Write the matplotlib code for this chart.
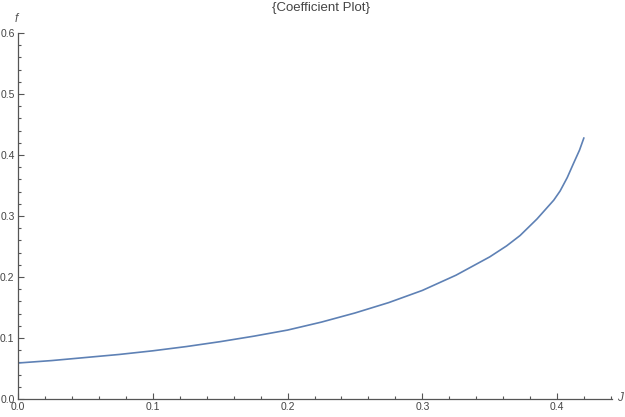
import matplotlib.pyplot as plt
from matplotlib.ticker import MultipleLocator

# values
J = [0.0, 0.025, 0.05, 0.075, 0.1, 0.125, 0.15, 0.175, 0.2, 0.225, 0.25, 0.275,
     0.3, 0.325, 0.35, 0.3625, 0.3725, 0.385, 0.3975, 0.4022, 0.4075, 0.4121, 0.4166, 0.42]
f = [0.059, 0.063, 0.068, 0.073, 0.079, 0.086, 0.094, 0.103, 0.113, 0.126, 0.141, 0.158,
     0.178, 0.203, 0.233, 0.251, 0.268, 0.295, 0.326, 0.341, 0.363, 0.386, 0.408, 0.429]

title = "{Coefficient Plot}"
x_label = "J"
y_label = "f"

axis_col = '#555555'
line_col = '#5E81B5'

plt.rcParams['font.family'] = ['Liberation Sans', 'DejaVu Sans']

fig = plt.figure(figsize=(6.25, 4.17), dpi=100)
ax = fig.add_axes([18/625, 1 - 399/417, 594/625, 366/417])

ax.plot(J, f, color=line_col, lw=1.2, solid_capstyle='butt', solid_joinstyle='round')

ax.set_xlim(0, 0.4407)
ax.set_ylim(0, 0.6)

for s in ['top', 'right']:
    ax.spines[s].set_visible(False)
for s in ['left', 'bottom']:
    ax.spines[s].set_color(axis_col)
    ax.spines[s].set_linewidth(0.9)

ax.xaxis.set_major_locator(MultipleLocator(0.1))
ax.xaxis.set_minor_locator(MultipleLocator(0.02))
ax.yaxis.set_major_locator(MultipleLocator(0.1))
ax.yaxis.set_minor_locator(MultipleLocator(0.02))
ax.tick_params(which='both', direction='in', color=axis_col, width=0.8,
               labelcolor='#444444', labelsize=7.5)
ax.tick_params(which='major', length=4.5, pad=2.5)
ax.tick_params(which='minor', length=2.5)
ax.set_xticks([0.0, 0.1, 0.2, 0.3, 0.4])
ax.set_xticklabels(['0.0', '0.1', '0.2', '0.3', '0.4'])
ax.set_yticks([0.0, 0.1, 0.2, 0.3, 0.4, 0.5, 0.6])
ax.set_yticklabels(['0.0', '0.1', '0.2', '0.3', '0.4', '0.5', '0.6'])

fig.text(16/625, 1 - 19/417, y_label, style='italic', color='#555555',
         fontsize=8.5, ha='center', va='center')
fig.text(620/625, 1 - 398/417, x_label, style='italic', color='#555555',
         fontsize=8.5, ha='center', va='center')
fig.text(321/625, 1 - 8/417, title, color='#444444', fontsize=9.5,
         ha='center', va='center')

fig.savefig('out.png', dpi=100)
